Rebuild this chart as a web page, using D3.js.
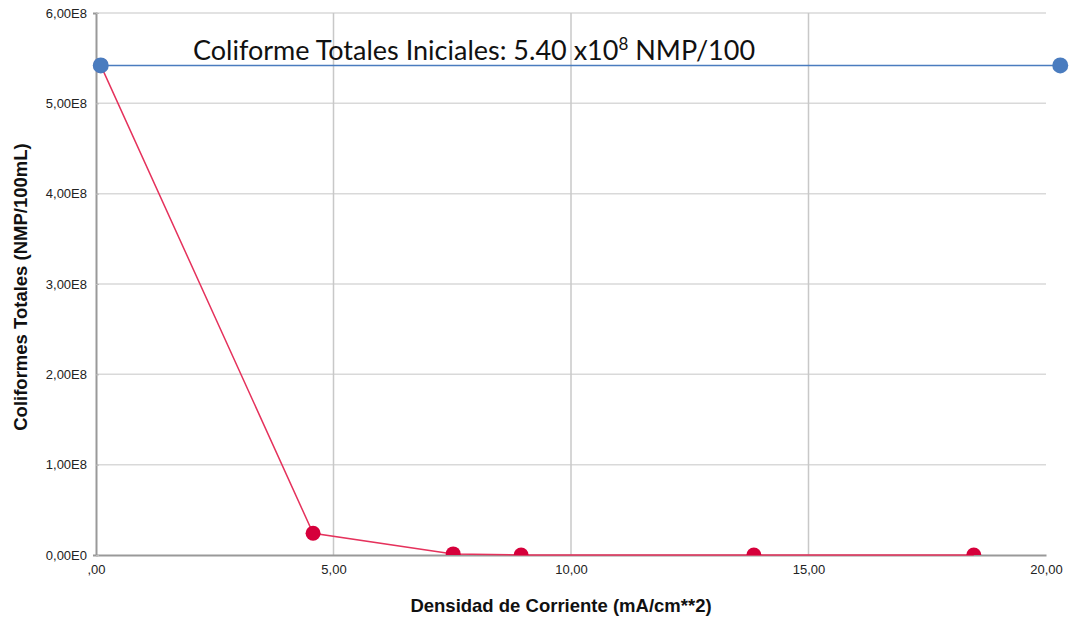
<!DOCTYPE html>
<html><head><meta charset="utf-8">
<script src="https://cdn.jsdelivr.net/npm/d3@7"></script>
<style>body{margin:0;background:#fff}</style>
</head><body>
<script>
const redX = [0.1, 4.57, 7.52, 8.95, 13.85, 18.48];
const redY = [5.42e8, 0.24e8, 0.012e8, 0, 0, 0];
const blueX = [0.1, 20.3];
const blueY = [5.42e8, 5.42e8];
const xTicks = [0, 5, 10, 15, 20];
const xTickLabels = [",00", "5,00", "10,00", "15,00", "20,00"];
const yTicks = [0, 1e8, 2e8, 3e8, 4e8, 5e8, 6e8];
const yTickLabels = ["0,00E0", "1,00E8", "2,00E8", "3,00E8", "4,00E8", "5,00E8", "6,00E8"];
const xTitle = "Densidad de Corriente (mA/cm**2)";
const yTitle = "Coliformes Totales (NMP/100mL)";

const W = 1071, H = 621;
const m = {l: 96, r: 25, t: 13, b: 66};
const FONT = "'Liberation Sans', Arimo, sans-serif";
const svg = d3.select("body").append("svg").attr("width", W).attr("height", H);
const x = d3.scaleLinear().domain([0, 20]).range([m.l, W - m.r]);
const y = d3.scaleLinear().domain([0, 6e8]).range([H - m.b, m.t]);

const defs = svg.append("defs");
defs.append("clipPath").attr("id", "bot").append("rect")
  .attr("x", 0).attr("y", 0).attr("width", W).attr("height", y(0));
defs.append("clipPath").attr("id", "page").append("rect")
  .attr("x", 0).attr("y", -20).attr("width", 1064).attr("height", H);

// grid
svg.append("g").selectAll("line").data(yTicks.filter(d => d > 0)).join("line")
  .attr("x1", x(0)).attr("x2", x(20)).attr("y1", d => y(d)).attr("y2", d => y(d))
  .attr("stroke", "#d9d9d9").attr("stroke-width", 1.5);
svg.append("g").selectAll("line").data([5, 10, 15]).join("line")
  .attr("x1", d => x(d)).attr("x2", d => x(d)).attr("y1", y(6e8)).attr("y2", y(0))
  .attr("stroke", "#c8c8c8").attr("stroke-width", 1.5);

// axes
const xAxis = d3.axisBottom(x).tickValues(xTicks).tickSize(0).tickPadding(10)
  .tickFormat((d, i) => xTickLabels[i]);
const gx = svg.append("g").attr("transform", `translate(0,${y(0)})`).attr("clip-path", "url(#page)").call(xAxis);
gx.select(".domain").attr("stroke", "#999").attr("stroke-width", 2);
gx.selectAll("text").attr("font-family", FONT).attr("font-size", 13).attr("fill", "#222");

const yAxis = d3.axisLeft(y).tickValues(yTicks).tickSize(3).tickPadding(6)
  .tickFormat((d, i) => yTickLabels[i]);
const gy = svg.append("g").attr("transform", `translate(${x(0)},0)`).call(yAxis);
gy.select(".domain").attr("stroke", "#999").attr("stroke-width", 2);
gy.selectAll(".tick line").attr("stroke", "#bbb").attr("x2", 3).attr("x1", 0);
gy.selectAll("text").attr("font-family", FONT).attr("font-size", 13).attr("fill", "#222");

// titles
svg.append("text").attr("x", (x(0) + x(20)) / 2 - 10).attr("y", 612).attr("text-anchor", "middle")
  .attr("font-family", FONT).attr("font-weight", "bold").attr("font-size", 18.5)
  .attr("fill", "#111").text(xTitle);
svg.append("text").attr("transform", `translate(27,${(y(0) + y(6e8)) / 2 + 3}) rotate(-90)`)
  .attr("text-anchor", "middle")
  .attr("font-family", FONT).attr("font-weight", "bold").attr("font-size", 18.5)
  .attr("fill", "#111").text(yTitle);

// red series
const red = redX.map((v, i) => [v, redY[i]]);
const blue = blueX.map((v, i) => [v, blueY[i]]);
const line = d3.line().x(d => x(d[0])).y(d => y(d[1]));
svg.append("path").datum(red).attr("d", line).attr("fill", "none").attr("stroke", "#e5325c").attr("stroke-width", 1.5);
svg.append("g").attr("clip-path", "url(#bot)").selectAll("circle").data(red).join("circle")
  .attr("cx", d => x(d[0])).attr("cy", d => y(d[1])).attr("r", 7.5).attr("fill", "#d6003b");

// blue series
svg.append("path").datum(blue).attr("d", line).attr("fill", "none").attr("stroke", "#4a7cbf").attr("stroke-width", 1.5);
svg.append("g").selectAll("circle").data(blue).join("circle")
  .attr("cx", d => x(d[0])).attr("cy", d => y(d[1])).attr("r", 8).attr("fill", "#4a7cbf");

// annotation
const ann = svg.append("text").attr("x", 193).attr("y", 60)
  .attr("font-family", "Lato, 'Open Sans', sans-serif").attr("font-size", 27).attr("fill", "#111");
ann.append("tspan").text("Coliforme Totales Iniciales: 5.40 x10");
ann.append("tspan").attr("dy", -10).attr("font-size", 17).text("8");
ann.append("tspan").attr("dy", 10).text(" NMP/100");
</script>
</body></html>
